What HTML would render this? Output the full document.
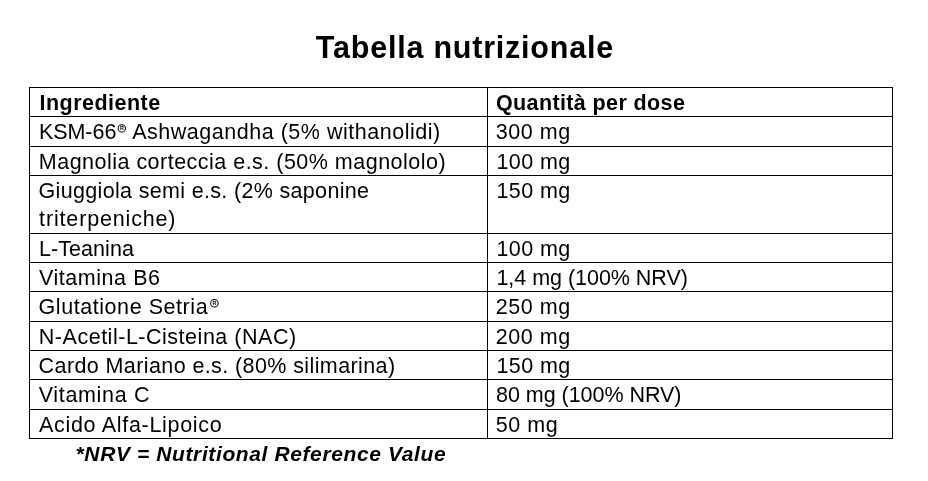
<!DOCTYPE html><html><head><meta charset="utf-8"><style>html,body{margin:0;padding:0;background:#fff;}svg{display:block;will-change:transform}text{font-family:"Liberation Sans",sans-serif;fill:#000}</style></head><body>
<svg width="928" height="481" viewBox="0 0 928 481">
<rect x="0" y="0" width="928" height="481" fill="#fff"/>
<rect x="29" y="87" width="864" height="1" fill="#000"/>
<rect x="29" y="116" width="864" height="1" fill="#000"/>
<rect x="29" y="146" width="864" height="1" fill="#000"/>
<rect x="29" y="175" width="864" height="1" fill="#000"/>
<rect x="29" y="233" width="864" height="1" fill="#000"/>
<rect x="29" y="262" width="864" height="1" fill="#000"/>
<rect x="29" y="291" width="864" height="1" fill="#000"/>
<rect x="29" y="321" width="864" height="1" fill="#000"/>
<rect x="29" y="350" width="864" height="1" fill="#000"/>
<rect x="29" y="379" width="864" height="1" fill="#000"/>
<rect x="29" y="409" width="864" height="1" fill="#000"/>
<rect x="29" y="438" width="864" height="1" fill="#000"/>
<rect x="29" y="87" width="1" height="352" fill="#000"/>
<rect x="487" y="87" width="1" height="352" fill="#000"/>
<rect x="892" y="87" width="1" height="352" fill="#000"/>
<text x="315.87" y="57.80" style="font-size:30.50px;font-weight:bold;font-style:normal" textLength="297.25" lengthAdjust="spacing">Tabella nutrizionale</text>
<text x="39.44" y="109.70" style="font-size:21.50px;font-weight:bold;font-style:normal" textLength="120.73" lengthAdjust="spacing">Ingrediente</text>
<text x="495.89" y="109.70" style="font-size:21.50px;font-weight:bold;font-style:normal" textLength="189.04" lengthAdjust="spacing">Quantità per dose</text>
<text x="38.91" y="139.10" style="font-size:21.50px;font-weight:normal;font-style:normal" textLength="77.44" lengthAdjust="spacing">KSM-66</text>
<text x="132.15" y="139.10" style="font-size:21.50px;font-weight:normal;font-style:normal" textLength="308.06" lengthAdjust="spacing">Ashwagandha (5% withanolidi)</text>
<text x="495.84" y="138.90" style="font-size:21.50px;font-weight:normal;font-style:normal" textLength="74.44" lengthAdjust="spacing">300 mg</text>
<text x="38.82" y="168.90" style="font-size:21.50px;font-weight:normal;font-style:normal" textLength="406.77" lengthAdjust="spacing">Magnolia corteccia e.s. (50% magnololo)</text>
<text x="496.42" y="168.90" style="font-size:21.50px;font-weight:normal;font-style:normal" textLength="73.86" lengthAdjust="spacing">100 mg</text>
<text x="38.57" y="197.80" style="font-size:21.50px;font-weight:normal;font-style:normal" textLength="330.46" lengthAdjust="spacing">Giuggiola semi e.s. (2% saponine</text>
<text x="39.12" y="225.80" style="font-size:21.50px;font-weight:normal;font-style:normal" textLength="136.35" lengthAdjust="spacing">triterpeniche)</text>
<text x="496.42" y="197.80" style="font-size:21.50px;font-weight:normal;font-style:normal" textLength="73.86" lengthAdjust="spacing">150 mg</text>
<text x="38.91" y="255.70" style="font-size:21.50px;font-weight:normal;font-style:normal" textLength="95.00" lengthAdjust="spacing">L-Teanina</text>
<text x="496.42" y="255.70" style="font-size:21.50px;font-weight:normal;font-style:normal" textLength="73.86" lengthAdjust="spacing">100 mg</text>
<text x="38.90" y="284.80" style="font-size:21.50px;font-weight:normal;font-style:normal" textLength="121.11" lengthAdjust="spacing">Vitamina B6</text>
<text x="496.42" y="284.70" style="font-size:21.50px;font-weight:normal;font-style:normal" textLength="191.50" lengthAdjust="spacing">1,4 mg (100% NRV)</text>
<text x="38.57" y="313.70" style="font-size:21.50px;font-weight:normal;font-style:normal" textLength="169.05" lengthAdjust="spacing">Glutatione Setria</text>
<text x="495.71" y="313.70" style="font-size:21.50px;font-weight:normal;font-style:normal" textLength="74.57" lengthAdjust="spacing">250 mg</text>
<text x="38.82" y="343.80" style="font-size:21.50px;font-weight:normal;font-style:normal" textLength="257.29" lengthAdjust="spacing">N-Acetil-L-Cisteina (NAC)</text>
<text x="495.71" y="343.80" style="font-size:21.50px;font-weight:normal;font-style:normal" textLength="74.57" lengthAdjust="spacing">200 mg</text>
<text x="38.62" y="372.70" style="font-size:21.50px;font-weight:normal;font-style:normal" textLength="356.49" lengthAdjust="spacing">Cardo Mariano e.s. (80% silimarina)</text>
<text x="496.42" y="372.70" style="font-size:21.50px;font-weight:normal;font-style:normal" textLength="73.86" lengthAdjust="spacing">150 mg</text>
<text x="38.77" y="401.70" style="font-size:21.50px;font-weight:normal;font-style:normal" textLength="110.66" lengthAdjust="spacing">Vitamina C</text>
<text x="496.09" y="401.70" style="font-size:21.50px;font-weight:normal;font-style:normal" textLength="185.38" lengthAdjust="spacing">80 mg (100% NRV)</text>
<text x="38.99" y="431.60" style="font-size:21.50px;font-weight:normal;font-style:normal" textLength="182.73" lengthAdjust="spacing">Acido Alfa-Lipoico</text>
<text x="495.72" y="431.60" style="font-size:21.50px;font-weight:normal;font-style:normal" textLength="62.12" lengthAdjust="spacing">50 mg</text>
<text x="75.56" y="460.80" style="font-size:21.00px;font-weight:bold;font-style:italic" textLength="370.09" lengthAdjust="spacing">*NRV = Nutritional Reference Value</text>
<circle cx="121.80" cy="128.40" r="3.67" fill="none" stroke="#000" stroke-width="1.05"/>
<text x="121.85" y="130.30" text-anchor="middle" style="font-size:5.4px;font-weight:bold">R</text>
<circle cx="214.40" cy="303.15" r="3.75" fill="none" stroke="#000" stroke-width="1.05"/>
<text x="214.45" y="305.05" text-anchor="middle" style="font-size:5.4px;font-weight:bold">R</text>
</svg></body></html>
